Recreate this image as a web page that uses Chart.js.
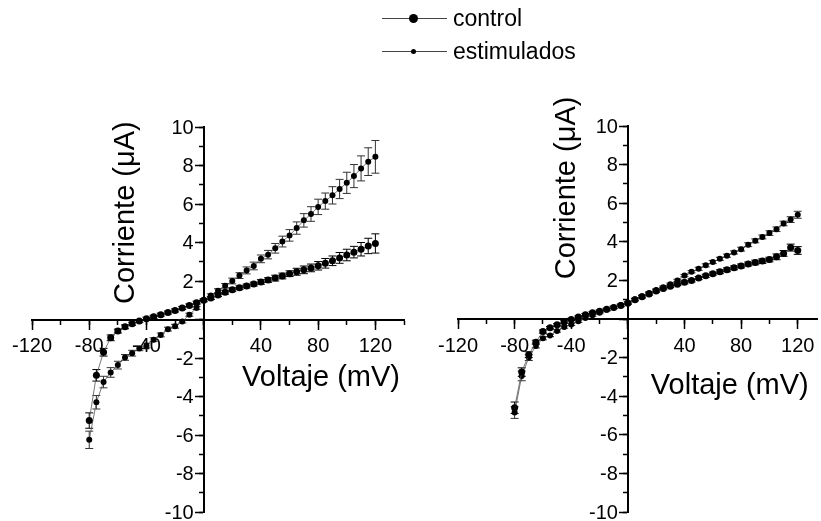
<!DOCTYPE html>
<html>
<head>
<meta charset="utf-8">
<script src="https://cdn.jsdelivr.net/npm/chart.js@4"></script>
<style>
  body { margin: 0; background: #fff; font-family: "Liberation Sans", Arial, sans-serif; }
  #lienzo { position: relative; width: 821px; height: 521px; overflow: hidden; }
  canvas { position: absolute; top: 0; }
  #graf-izq { left: 0; }
  #graf-der { left: 410px; }
  .leyenda { position: absolute; left: 382px; height: 30px; width: 220px; }
  .leyenda .linea { position: absolute; left: 0; top: 15px; width: 65px; height: 1px; background: #444; }
  .leyenda .punto { position: absolute; background: #000; border-radius: 50%; }
  .leyenda .texto { position: absolute; left: 71px; top: 0; line-height: 30px; font-size: 23px; color: #000; }
</style>
</head>
<body>
<div id="lienzo">
  <canvas id="graf-izq" width="410" height="521"></canvas>
  <canvas id="graf-der" width="411" height="521"></canvas>
  <div class="leyenda" style="top:3px">
    <div class="linea"></div>
    <div class="punto" style="left:27px;top:11px;width:9px;height:9px"></div>
    <div class="texto">control</div>
  </div>
  <div class="leyenda" style="top:36px">
    <div class="linea"></div>
    <div class="punto" style="left:29px;top:13px;width:5px;height:5px"></div>
    <div class="texto">estimulados</div>
  </div>
</div>
<script>
// voltajes de los pasos (mV)
const voltaje = [-80,-75,-70,-65,-60,-55,-50,-45,-40,-35,-30,-25,-20,-15,-10,-5,0,5,10,15,20,25,30,35,40,45,50,55,60,65,70,75,80,85,90,95,100,105,110,115,120];

// panel izquierdo (uA)
const izqControl = [-5.25,-2.9,-1.7,-0.95,-0.6,-0.38,-0.22,-0.08,0.04,0.14,0.25,0.36,0.47,0.6,0.73,0.87,1.0,1.12,1.27,1.42,1.55,1.65,1.74,1.84,1.95,2.05,2.15,2.26,2.38,2.48,2.58,2.68,2.79,2.92,3.05,3.2,3.35,3.5,3.65,3.82,3.95];
const izqControlErr = [0.4,0.3,0.2,0.15,0.1,0.1,0.08,0.08,0.08,0.08,0.08,0.08,0.08,0.08,0.08,0.08,0.08,0.08,0.08,0.1,0.1,0.1,0.1,0.1,0.12,0.12,0.15,0.15,0.15,0.18,0.2,0.2,0.22,0.25,0.25,0.28,0.3,0.3,0.35,0.4,0.5];
const izqEstim = [-6.25,-4.3,-3.25,-2.75,-2.37,-1.97,-1.75,-1.5,-1.35,-1.05,-0.8,-0.5,-0.35,-0.1,0.25,0.6,1.0,1.25,1.5,1.75,2.0,2.28,2.55,2.78,3.15,3.37,3.7,4.05,4.37,4.75,5.15,5.48,5.85,6.15,6.45,6.78,7.1,7.45,7.85,8.2,8.45];
const izqEstimErr = [0.45,0.35,0.3,0.25,0.2,0.15,0.15,0.12,0.12,0.1,0.1,0.1,0.1,0.08,0.08,0.08,0.05,0.08,0.1,0.12,0.15,0.15,0.18,0.2,0.2,0.22,0.25,0.28,0.3,0.32,0.35,0.38,0.4,0.42,0.45,0.5,0.55,0.6,0.65,0.72,0.85];

// panel derecho (uA)
const derControl = [-4.6,-2.75,-1.85,-1.2,-0.65,-0.45,-0.3,-0.15,-0.02,0.1,0.22,0.32,0.4,0.5,0.6,0.7,0.82,1.0,1.15,1.3,1.45,1.58,1.7,1.8,1.9,2.0,2.12,2.24,2.35,2.45,2.55,2.65,2.75,2.85,2.93,3.0,3.08,3.22,3.4,3.7,3.55];
const derControlErr = [0.3,0.22,0.15,0.1,0.08,0.06,0.06,0.06,0.06,0.06,0.06,0.06,0.06,0.06,0.06,0.06,0.06,0.06,0.06,0.06,0.06,0.06,0.06,0.06,0.08,0.08,0.08,0.08,0.08,0.1,0.1,0.1,0.1,0.1,0.12,0.12,0.12,0.15,0.15,0.18,0.2];
const derEstim = [-4.85,-2.95,-2.0,-1.4,-1.0,-0.85,-0.62,-0.42,-0.28,-0.12,0.05,0.2,0.33,0.48,0.6,0.72,0.85,1.02,1.18,1.35,1.5,1.65,1.8,2.0,2.25,2.45,2.6,2.78,2.95,3.12,3.28,3.45,3.62,3.85,4.05,4.25,4.45,4.65,4.95,5.15,5.4];
const derEstimErr = [0.3,0.25,0.15,0.1,0.08,0.06,0.06,0.06,0.06,0.06,0.06,0.06,0.06,0.06,0.06,0.06,0.06,0.06,0.06,0.06,0.06,0.06,0.06,0.06,0.06,0.06,0.08,0.08,0.08,0.08,0.08,0.08,0.1,0.1,0.1,0.1,0.12,0.12,0.12,0.15,0.18];

// marcas de los ejes
const ticksX = [-120,-80,-40,0,40,80,120];
const ticksXMenor = [-120,-100,-80,-60,-40,-20,0,20,40,60,80,100,120,140];
const ticksY = [-10,-8,-6,-4,-2,0,2,4,6,8,10];
const ticksYMenor = [-10,-9,-8,-7,-6,-5,-4,-3,-2,-1,0,1,2,3,4,5,6,7,8,9,10];

const FUENTE = '"Liberation Sans", Arial, sans-serif';

const barrasError = {
  id: 'barrasError',
  beforeDatasetsDraw(chart) {
    const ctx = chart.ctx;
    const y = chart.scales.y;
    chart.data.datasets.forEach((ds, i) => {
      if (!ds.errores) return;
      const meta = chart.getDatasetMeta(i);
      ctx.save();
      ctx.strokeStyle = ds.colorError || '#000';
      ctx.lineWidth = 1;
      meta.data.forEach((pt, j) => {
        const e = ds.errores[j];
        const arriba = y.getPixelForValue(ds.data[j].y + e);
        const abajo = y.getPixelForValue(ds.data[j].y - e);
        ctx.beginPath();
        ctx.moveTo(pt.x, arriba); ctx.lineTo(pt.x, abajo);
        ctx.moveTo(pt.x - 4, arriba); ctx.lineTo(pt.x + 4, arriba);
        ctx.moveTo(pt.x - 4, abajo); ctx.lineTo(pt.x + 4, abajo);
        ctx.stroke();
      });
      ctx.restore();
    });
  }
};

// etiquetas del eje y (chart.js las pega al eje cuando esta en el origen) y titulos
const textosEjes = {
  id: 'textosEjes',
  beforeDatasetsDraw(chart) {
    const {ctx, scales: {x, y}} = chart;
    const x0 = x.getPixelForValue(0);
    ctx.save();
    ctx.fillStyle = '#000';
    ctx.font = '20px ' + FUENTE;
    ctx.textAlign = 'right';
    ctx.textBaseline = 'middle';
    ticksY.forEach(v => {
      if (v !== 0) ctx.fillText(String(v), x0 - 10, y.getPixelForValue(v) + 1);
    });
    ctx.restore();
  },
  afterDraw(chart, args, opts) {
    const {ctx, scales: {x, y}} = chart;
    ctx.save();
    ctx.fillStyle = '#000';
    ctx.font = '29px ' + FUENTE;
    ctx.textAlign = 'center';
    ctx.textBaseline = 'middle';
    ctx.fillText(opts.textoX, x.getPixelForValue(opts.posX[0]), y.getPixelForValue(opts.posX[1]));
    ctx.translate(x.getPixelForValue(opts.posY[0]), y.getPixelForValue(opts.posY[1]));
    ctx.rotate(-Math.PI / 2);
    ctx.fillText(opts.textoY, 0, 0);
    ctx.restore();
  }
};

function serie(nombre, valores, errores, radio, colorError) {
  return {
    label: nombre,
    data: voltaje.map((v, i) => ({x: v, y: valores[i]})),
    errores: errores,
    colorError: colorError,
    borderColor: '#555',
    borderWidth: 0.8,
    backgroundColor: '#000',
    pointBackgroundColor: '#000',
    pointBorderColor: '#000',
    pointRadius: radio,
    pointBorderWidth: 0,
    tension: 0
  };
}

function escala(ejeCruce, min, max, marcas, largo, etiquetas) {
  const pos = {};
  pos[ejeCruce] = 0;
  return {
    type: 'linear',
    position: pos,
    min: min,
    max: max,
    bounds: 'data',
    afterBuildTicks: s => { s.ticks = marcas.map(v => ({value: v})); },
    grid: { drawOnChartArea: false, drawTicks: true, tickLength: largo, tickWidth: 1.5, tickColor: '#000', color: '#000' },
    border: { display: true, color: '#000', width: 2 },
    ticks: {
      display: etiquetas,
      autoSkip: false,
      maxRotation: 0,
      padding: 6,
      color: '#000',
      font: { size: 20, family: FUENTE },
      callback: v => v === 0 ? '' : String(v)
    }
  };
}

function crearPanel(id, control, controlErr, estim, estimErr, maxX, relleno, posX, posY) {
  return new Chart(document.getElementById(id), {
    type: 'line',
    data: {
      datasets: [
        serie('control', control, controlErr, 3.5, '#000'),
        serie('estimulados', estim, estimErr, 3, '#333')
      ]
    },
    options: {
      responsive: false,
      animation: false,
      layout: { padding: relleno },
      scales: {
        x: escala('y', -120, maxX, ticksX, 9, true),
        x2: escala('y', -120, maxX, ticksXMenor, 4, false),
        y: escala('x', -10, 10, ticksY, 8, false),
        y2: escala('x', -10, 10, ticksYMenor, 4, false)
      },
      plugins: {
        legend: { display: false },
        tooltip: { enabled: false },
        textosEjes: { textoX: 'Voltaje (mV)', textoY: 'Corriente (μA)', posX: posX, posY: posY }
      }
    },
    plugins: [barrasError, textosEjes]
  });
}

crearPanel('graf-izq', izqControl, izqControlErr, izqEstim, izqEstimErr, 140,
  { left: 32, right: 6, top: 127, bottom: 9 }, [82, -3.05], [-54.5, 5.55]);
crearPanel('graf-der', derControl, derControlErr, derEstim, derEstimErr, 133.6,
  { left: 48, right: 1, top: 126, bottom: 9 }, [72, -3.47], [-43, 6.79]);
</script>
</body>
</html>
